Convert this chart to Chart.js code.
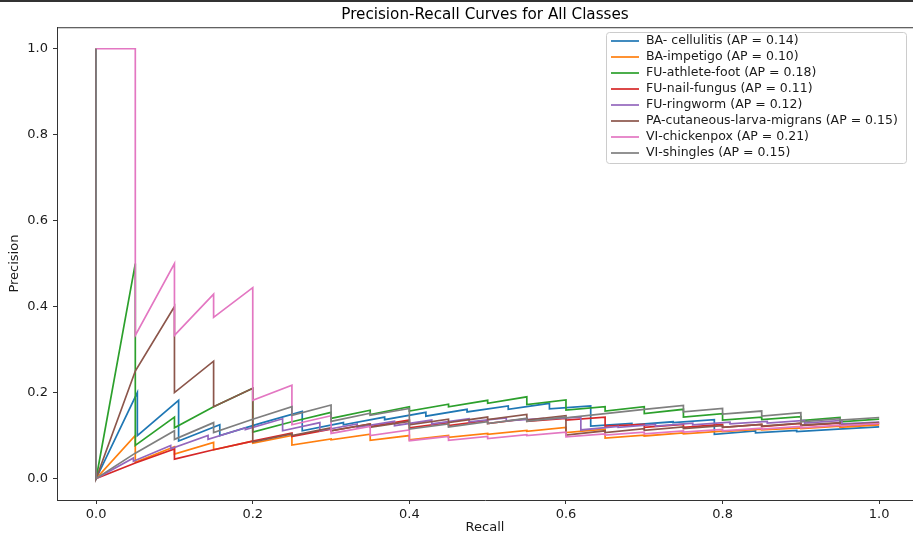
<!DOCTYPE html>
<html>
<head>
<meta charset="utf-8">
<title>Precision-Recall Curves for All Classes</title>
<script src="https://cdn.jsdelivr.net/npm/chart.js@4.4.1/dist/chart.umd.min.js"></script>
<style>
  html, body { margin: 0; padding: 0; background: #fff; }
  #wrap { position: relative; width: 913px; height: 535px; }
</style>
</head>
<body>
<div id="wrap"><canvas id="pr" width="913" height="535"></canvas></div>
<script>
// recall reached after each true positive (19, 20 or 21 positives per class)
var recall19 = [0.0526, 0.1053, 0.1579, 0.2105, 0.2632, 0.3158, 0.3684, 0.4211, 0.4737, 0.5263,
                0.5789, 0.6316, 0.6842, 0.7368, 0.7895, 0.8421, 0.8947, 0.9474, 1.0];
var recall20 = [0.05, 0.10, 0.15, 0.20, 0.25, 0.30, 0.35, 0.40, 0.45, 0.50,
                0.55, 0.60, 0.65, 0.70, 0.75, 0.80, 0.85, 0.90, 0.95, 1.0];
var recall21 = [0.0476, 0.0952, 0.1429, 0.1905, 0.2381, 0.2857, 0.3333, 0.3810, 0.4286, 0.4762,
                0.5238, 0.5714, 0.6190, 0.6667, 0.7143, 0.7619, 0.8095, 0.8571, 0.9048, 0.9524, 1.0];

var classNames = ['BA- cellulitis', 'BA-impetigo', 'FU-athlete-foot', 'FU-nail-fungus',
                  'FU-ringworm', 'PA-cutaneous-larva-migrans', 'VI-chickenpox', 'VI-shingles'];
var apValues = [0.14, 0.10, 0.18, 0.11, 0.12, 0.15, 0.21, 0.15];

// precision at each recall step: "Top" right after the hit, "Low" after the false positives that follow
var cellulitisTop = [0.200, 0.182, 0.125, 0.129, 0.156, 0.130, 0.143, 0.154, 0.161, 0.169,
                     0.175, 0.169, 0.128, 0.132, 0.137, 0.111, 0.112, 0.115, 0.120];
var cellulitisLow = [0.100, 0.087, 0.100, 0.129, 0.111, 0.125, 0.137, 0.145, 0.155, 0.161,
                     0.162, 0.122, 0.125, 0.130, 0.103, 0.106, 0.109, 0.115];

var impetigoTop = [0.100, 0.074, 0.084, 0.087, 0.100, 0.092, 0.103, 0.100, 0.100, 0.105,
                   0.112, 0.119, 0.115, 0.101, 0.106, 0.110, 0.115, 0.118, 0.122, 0.125];
var impetigoLow = [0.038, 0.057, 0.067, 0.082, 0.078, 0.090, 0.089, 0.090, 0.096, 0.103,
                   0.110, 0.107, 0.094, 0.099, 0.104, 0.109, 0.113, 0.116, 0.119];

var athleteFootTop = [0.500, 0.143, 0.167, 0.210, 0.132, 0.154, 0.159, 0.167, 0.173, 0.182,
                      0.190, 0.183, 0.167, 0.167, 0.161, 0.151, 0.143, 0.144, 0.142, 0.138];
var athleteFootLow = [0.077, 0.118, 0.167, 0.108, 0.132, 0.140, 0.149, 0.157, 0.167, 0.175,
                      0.172, 0.159, 0.157, 0.151, 0.143, 0.136, 0.137, 0.135, 0.132];

var nailFungusTop = [0.036, 0.069, 0.067, 0.087, 0.106, 0.115, 0.127, 0.136, 0.130, 0.135,
                     0.139, 0.140, 0.143, 0.126, 0.126, 0.126, 0.126, 0.128, 0.129, 0.128];
var nailFungusLow = [0.036, 0.045, 0.067, 0.087, 0.098, 0.111, 0.121, 0.118, 0.123, 0.128,
                     0.133, 0.136, 0.122, 0.119, 0.119, 0.119, 0.121, 0.123, 0.123];

var ringwormTop = [0.048, 0.077, 0.100, 0.118, 0.139, 0.130, 0.127, 0.133, 0.136, 0.139,
                   0.141, 0.140, 0.143, 0.121, 0.126, 0.129, 0.131, 0.133, 0.135, 0.135, 0.131];
var ringwormLow = [0.040, 0.069, 0.091, 0.114, 0.111, 0.111, 0.119, 0.123, 0.127, 0.132,
                   0.134, 0.138, 0.113, 0.119, 0.122, 0.125, 0.127, 0.129, 0.129, 0.127];

var larvaMigransTop = [0.250, 0.400, 0.273, 0.210, 0.104, 0.118, 0.127, 0.133, 0.138, 0.143,
                       0.149, 0.146, 0.111, 0.116, 0.120, 0.123, 0.126, 0.129, 0.130, 0.130];
var larvaMigransLow = [0.250, 0.200, 0.167, 0.085, 0.100, 0.111, 0.119, 0.125, 0.130, 0.137,
                       0.136, 0.101, 0.107, 0.112, 0.116, 0.119, 0.122, 0.124, 0.124];

var chickenpoxTop = [1.000, 0.500, 0.429, 0.444, 0.217, 0.146, 0.121, 0.113, 0.098, 0.098,
                     0.102, 0.108, 0.104, 0.108, 0.111, 0.114, 0.117, 0.121, 0.124, 0.128];
var chickenpoxLow = [0.333, 0.333, 0.375, 0.182, 0.125, 0.105, 0.100, 0.088, 0.089, 0.093,
                     0.100, 0.097, 0.101, 0.104, 0.108, 0.111, 0.115, 0.118, 0.123];

var shinglesTop = [0.059, 0.111, 0.130, 0.138, 0.167, 0.171, 0.152, 0.163, 0.127, 0.132,
                   0.140, 0.143, 0.151, 0.161, 0.170, 0.163, 0.157, 0.153, 0.139, 0.142];
var shinglesLow = [0.059, 0.091, 0.107, 0.138, 0.147, 0.133, 0.147, 0.115, 0.120, 0.128,
                   0.133, 0.141, 0.151, 0.161, 0.155, 0.150, 0.145, 0.132, 0.136];

var xTicks = [0.0, 0.2, 0.4, 0.6, 0.8, 1.0];
var yTicks = [0.0, 0.2, 0.4, 0.6, 0.8, 1.0];

var recallSeries = [recall19, recall20, recall20, recall20, recall21, recall20, recall20, recall20];
var topSeries = [cellulitisTop, impetigoTop, athleteFootTop, nailFungusTop, ringwormTop, larvaMigransTop, chickenpoxTop, shinglesTop];
var lowSeries = [cellulitisLow, impetigoLow, athleteFootLow, nailFungusLow, ringwormLow, larvaMigransLow, chickenpoxLow, shinglesLow];
var firstIsHit = [false, false, false, false, false, false, true, false];

var colors = ['#1f77b4', '#ff7f0e', '#2ca02c', '#d62728', '#9467bd', '#8c564b', '#e377c2', '#7f7f7f'];
var FONT = 'DejaVu Sans';

function buildCurve(recall, top, low, hitFirst) {
    var pts = [{x: 0, y: 1}];
    if (!hitFirst) pts.push({x: 0, y: 0});
    for (var i = 0; i < top.length; i++) {
        pts.push({x: recall[i], y: top[i]});
        if (i < low.length) pts.push({x: recall[i], y: low[i]});
    }
    return pts;
}

var datasets = classNames.map(function (name, i) {
    return {
        label: name + ' (AP = ' + apValues[i].toFixed(2) + ')',
        data: buildCurve(recallSeries[i], topSeries[i], lowSeries[i], firstIsHit[i]),
        borderColor: colors[i],
        backgroundColor: colors[i],
        borderWidth: 1.7,
        pointRadius: 0,
        tension: 0,
        fill: false,
        order: classNames.length - i   // later classes end up on top, like matplotlib
    };
});

// spines, page edge and the matplotlib-style legend box
var framePlugin = {
    id: 'frame',
    afterDraw: function (chart) {
        var c = chart.ctx, a = chart.chartArea;
        c.save();
        c.strokeStyle = '#333';
        c.lineWidth = 1;
        c.beginPath();
        c.moveTo(a.left, a.top + 0.5);
        c.lineTo(a.right, a.top + 0.5);
        c.stroke();
        c.lineWidth = 2;
        c.beginPath();
        c.moveTo(0, 1);
        c.lineTo(chart.width, 1);
        c.stroke();

        // legend
        var bx = 606.5, by = 32.5, bw = 300, bh = 131, r = 3;
        c.fillStyle = 'rgba(255,255,255,0.8)';
        c.strokeStyle = '#cccccc';
        c.lineWidth = 1;
        c.beginPath();
        c.moveTo(bx + r, by);
        c.lineTo(bx + bw - r, by);
        c.arcTo(bx + bw, by, bx + bw, by + r, r);
        c.lineTo(bx + bw, by + bh - r);
        c.arcTo(bx + bw, by + bh, bx + bw - r, by + bh, r);
        c.lineTo(bx + r, by + bh);
        c.arcTo(bx, by + bh, bx, by + bh - r, r);
        c.lineTo(bx, by + r);
        c.arcTo(bx, by, bx + r, by, r);
        c.closePath();
        c.fill();
        c.stroke();

        c.font = '12.5px ' + FONT;
        c.textBaseline = 'middle';
        c.textAlign = 'left';
        chart.data.datasets.forEach(function (ds, i) {
            var yy = 41 + i * 16;
            c.strokeStyle = ds.borderColor;
            c.lineWidth = 1.7;
            c.beginPath();
            c.moveTo(611, yy);
            c.lineTo(639, yy);
            c.stroke();
            c.fillStyle = '#1a1a1a';
            c.fillText(ds.label, 646, yy);
        });
        c.restore();
    }
};

var ctx = document.getElementById('pr').getContext('2d');
var prChart = new Chart(ctx, {
    type: 'line',
    data: { datasets: datasets },
    options: {
        responsive: false,
        devicePixelRatio: 1,
        animation: false,
        layout: { padding: 0 },
        plugins: {
            legend: { display: false },
            tooltip: { enabled: false },
            title: {
                display: true,
                fullSize: false,
                text: 'Precision-Recall Curves for All Classes',
                color: '#000',
                font: { family: FONT, size: 15.2, weight: 'normal' },
                padding: { top: 6, bottom: 3 }
            }
        },
        scales: {
            x: {
                type: 'linear',
                min: -0.05,
                max: 1.0432,
                afterBuildTicks: function (s) { s.ticks = xTicks.map(function (v) { return {value: v}; }); },
                afterFit: function (s) { s.height = 35; },
                ticks: {
                    autoSkip: false, maxRotation: 0, padding: 3, color: '#1a1a1a',
                    font: { family: FONT, size: 13 },
                    callback: function (v) { return Number(v).toFixed(1); }
                },
                grid: { drawOnChartArea: false, drawTicks: true, tickLength: 4, color: '#333' },
                border: { display: true, color: '#333', width: 1 },
                title: {
                    display: true, text: 'Recall', color: '#1a1a1a',
                    font: { family: FONT, size: 13 }, padding: { top: 0, bottom: 0 }
                }
            },
            y: {
                type: 'linear',
                min: -0.05,
                max: 1.05,
                afterBuildTicks: function (s) { s.ticks = yTicks.map(function (v) { return {value: v}; }); },
                afterFit: function (s) { s.width = 57; },
                ticks: {
                    autoSkip: false, padding: 5, color: '#1a1a1a',
                    font: { family: FONT, size: 13 },
                    callback: function (v) { return Number(v).toFixed(1); }
                },
                grid: { drawOnChartArea: false, drawTicks: true, tickLength: 4, color: '#333' },
                border: { display: true, color: '#333', width: 1 },
                title: {
                    display: true, text: 'Precision', color: '#1a1a1a',
                    font: { family: FONT, size: 13 }, padding: { top: 7, bottom: 0 }
                }
            }
        }
    },
    plugins: [framePlugin]
});
</script>
</body>
</html>
